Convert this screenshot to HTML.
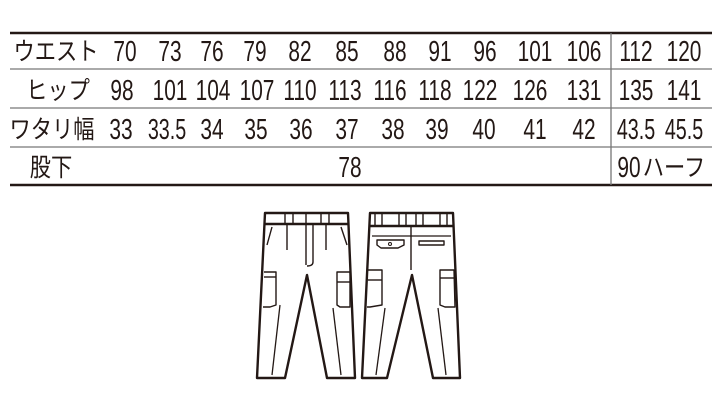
<!DOCTYPE html>
<html><head><meta charset="utf-8"><style>
html,body{margin:0;padding:0;background:#fff;}
svg{display:block}
text{font-family:"Liberation Sans",sans-serif;font-size:29px;fill:#231815;text-anchor:middle}
.j{font-family:"Noto Sans CJK JP","WenQuanYi Zen Hei",sans-serif;font-size:25px}
</style></head><body>
<svg width="720" height="400" viewBox="0 0 720 400" xmlns="http://www.w3.org/2000/svg">
<g stroke="#231815">
<line x1="10" y1="33" x2="712" y2="33" stroke-width="2.5"/>
<line x1="10" y1="185" x2="712" y2="185" stroke-width="2.5"/>
</g>
<g stroke="#777" stroke-width="1.3">
<line x1="10" y1="69" x2="712" y2="69"/>
<line x1="10" y1="108" x2="712" y2="108"/>
<line x1="10" y1="147" x2="712" y2="147"/>
<line x1="611" y1="33" x2="611" y2="185"/>
</g>
<text class="j" transform="translate(56,60) scale(0.85,1)">ウエスト</text>
<text class="j" transform="translate(58,99) scale(0.85,1)">ヒップ</text>
<text class="j" transform="translate(52,138) scale(0.85,1)">ワタリ幅</text>
<text class="j" transform="translate(51,176) scale(0.85,1)">股下</text>
<g>
<text transform="translate(125,61) scale(.72,1)">70</text><text transform="translate(170,61) scale(.72,1)">73</text><text transform="translate(212,61) scale(.72,1)">76</text><text transform="translate(255,61) scale(.72,1)">79</text><text transform="translate(300,61) scale(.72,1)">82</text><text transform="translate(347,61) scale(.72,1)">85</text><text transform="translate(395,61) scale(.72,1)">88</text><text transform="translate(440,61) scale(.72,1)">91</text><text transform="translate(485,61) scale(.72,1)">96</text><text transform="translate(535,61) scale(.72,1)">101</text><text transform="translate(584,61) scale(.72,1)">106</text><text transform="translate(636,61) scale(.72,1)">112</text><text transform="translate(684,61) scale(.72,1)">120</text>
<text transform="translate(122,100) scale(.72,1)">98</text><text transform="translate(170,100) scale(.72,1)">101</text><text transform="translate(213,100) scale(.72,1)">104</text><text transform="translate(257,100) scale(.72,1)">107</text><text transform="translate(300,100) scale(.72,1)">110</text><text transform="translate(345,100) scale(.72,1)">113</text><text transform="translate(390,100) scale(.72,1)">116</text><text transform="translate(435,100) scale(.72,1)">118</text><text transform="translate(480,100) scale(.72,1)">122</text><text transform="translate(530,100) scale(.72,1)">126</text><text transform="translate(584,100) scale(.72,1)">131</text><text transform="translate(636,100) scale(.72,1)">135</text><text transform="translate(684,100) scale(.72,1)">141</text>
<text transform="translate(121,139) scale(.72,1)">33</text><text transform="translate(167,139) scale(.68,1)">33.5</text><text transform="translate(212,139) scale(.72,1)">34</text><text transform="translate(256,139) scale(.72,1)">35</text><text transform="translate(301,139) scale(.72,1)">36</text><text transform="translate(347,139) scale(.72,1)">37</text><text transform="translate(393,139) scale(.72,1)">38</text><text transform="translate(437,139) scale(.72,1)">39</text><text transform="translate(484,139) scale(.72,1)">40</text><text transform="translate(535,139) scale(.72,1)">41</text><text transform="translate(584,139) scale(.72,1)">42</text><text transform="translate(636,139) scale(.68,1)">43.5</text><text transform="translate(684,139) scale(.68,1)">45.5</text>
<text transform="translate(350,177) scale(.72,1)">78</text>
<text transform="translate(629,177) scale(.72,1)">90</text><text class="j" transform="translate(674,176) scale(0.85,1)">ハーフ</text>
</g>
<g fill="none" stroke="#231815" stroke-width="2.4" stroke-linejoin="round">
<path d="M265 213 H348 L355 378 H327 L307 275 L285 378 H257 Z" fill="#fff"/>
<line x1="265" y1="224" x2="348" y2="224"/>
<rect x="285" y="213" width="8" height="11" stroke-width="1.4"/>
<rect x="321" y="213" width="8" height="11" stroke-width="1.4"/>
<line x1="306" y1="213" x2="306" y2="265" stroke-width="1.4"/>
<path d="M313 224 V262 Q313 266 307 266" stroke-width="1.4"/>
<line x1="287" y1="224" x2="287" y2="250" stroke-width="1.4"/>
<line x1="326" y1="224" x2="326" y2="250" stroke-width="1.4"/>
<path d="M272 227 L267 245" stroke-width="1.4"/>
<path d="M341 227 L347 245" stroke-width="1.4"/>
<path d="M264 272 H276 V305 L270 307 H263" stroke-width="1.4"/>
<line x1="264" y1="277" x2="276" y2="277" stroke-width="1.4"/>
<path d="M337 272 H350 V307 H340 L337 305 Z" stroke-width="1.4"/>
<line x1="337" y1="282" x2="350" y2="282" stroke-width="1.4"/>
<line x1="280" y1="305" x2="272" y2="375" stroke-width="1.3"/>
<line x1="333" y1="308" x2="341" y2="375" stroke-width="1.3"/>
<path d="M370 213 H453 L460 378 H433 L412 275 L387 378 H362 Z" fill="#fff"/>
<line x1="370" y1="226" x2="453" y2="226"/>
<rect x="375" y="213" width="7" height="13" stroke-width="1.4"/>
<rect x="399" y="213" width="7" height="13" stroke-width="1.4"/>
<rect x="416" y="213" width="7" height="13" stroke-width="1.4"/>
<rect x="440" y="213" width="7" height="13" stroke-width="1.4"/>
<line x1="411" y1="226" x2="411" y2="270" stroke-width="1.4"/>
<line x1="372" y1="236" x2="451" y2="236" stroke-width="1.2"/>
<path d="M377 240 H404 V245 L398 248 H381 L377 245 Z" stroke-width="1.4"/>
<circle cx="390" cy="244" r="1.5" stroke-width="1"/>
<rect x="419" y="241" width="25" height="4" stroke-width="1.4"/>
<path d="M368 270 H382 V305 L370 307 H367" stroke-width="1.4"/>
<line x1="368" y1="280" x2="382" y2="280" stroke-width="1.4"/>
<path d="M440 270 H454 L455 307 H445 L440 305 Z" stroke-width="1.4"/>
<line x1="440" y1="278" x2="454" y2="278" stroke-width="1.4"/>
<line x1="385" y1="308" x2="376" y2="375" stroke-width="1.3"/>
<line x1="438" y1="308" x2="446" y2="375" stroke-width="1.3"/>
</g>
</svg>
</body></html>
